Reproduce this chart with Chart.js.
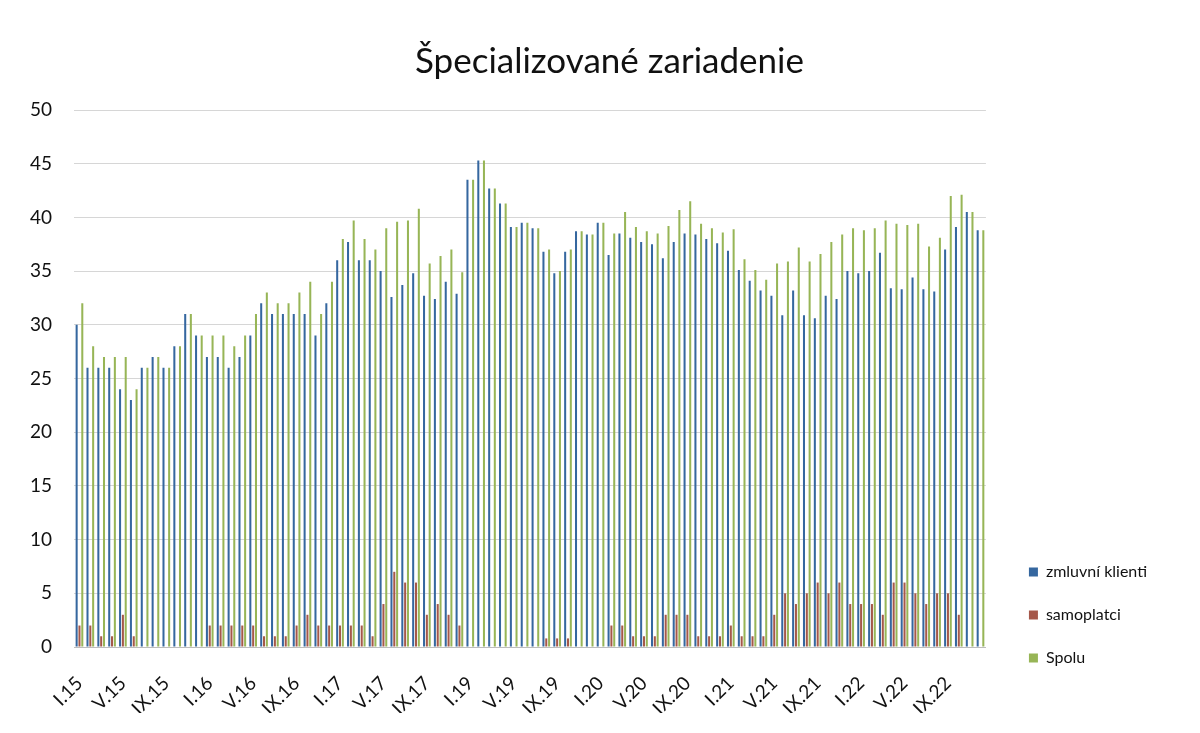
<!DOCTYPE html>
<html>
<head>
<meta charset="utf-8">
<script src="https://cdn.jsdelivr.net/npm/chart.js@4/dist/chart.umd.min.js"></script>
<style>
  html, body { margin: 0; padding: 0; background: #fff; }
  #wrap { width: 1200px; height: 733px; position: relative; }
</style>
</head>
<body>
<div id="wrap"><canvas id="chart"></canvas></div>
<script>
// mesiace a roky (rok 2018 v grafe chyba)
const years = ['15', '16', '17', '19', '20', '21', '22'];
const months = ['I', 'II', 'III', 'IV', 'V', 'VI', 'VII', 'VIII', 'IX', 'X', 'XI', 'XII'];
const categories = years.flatMap(y => months.map(m => m + '.' + y));

const zmluvni = [
    30, 26, 26, 26, 24, 23, 26, 27, 26, 28, 31, 29,
    27, 27, 26, 27, 29, 32, 31, 31, 31, 31, 29, 32,
    36, 37.7, 36, 36, 35, 32.6, 33.7, 34.8, 32.7, 32.4, 34, 32.9,
    43.5, 45.3, 42.7, 41.3, 39.1, 39.5, 39, 36.8, 34.8, 36.8, 38.7, 38.4,
    39.5, 36.5, 38.5, 38.1, 37.7, 37.5, 36.2, 37.7, 38.5, 38.4, 38, 37.6,
    36.9, 35.1, 34.1, 33.2, 32.7, 30.9, 33.2, 30.9, 30.6, 32.7, 32.4, 35,
    34.8, 35, 36.7, 33.4, 33.3, 34.4, 33.3, 33.1, 37, 39.1, 40.5, 38.8
];
const samoplatci = [
    2, 2, 1, 1, 3, 1, 0, 0, 0, 0, 0, 0,
    2, 2, 2, 2, 2, 1, 1, 1, 2, 3, 2, 2,
    2, 2, 2, 1, 4, 7, 6, 6, 3, 4, 3, 2,
    0, 0, 0, 0, 0, 0, 0, 0.8, 0.8, 0.8, 0, 0,
    0, 2, 2, 1, 1, 1, 3, 3, 3, 1, 1, 1,
    2, 1, 1, 1, 3, 5, 4, 5, 6, 5, 6, 4,
    4, 4, 3, 6, 6, 5, 4, 5, 5, 3, 0, 0
];
const spolu = [
    32, 28, 27, 27, 27, 24, 26, 27, 26, 28, 31, 29,
    29, 29, 28, 29, 31, 33, 32, 32, 33, 34, 31, 34,
    38, 39.7, 38, 37, 39, 39.6, 39.7, 40.8, 35.7, 36.4, 37, 34.9,
    43.5, 45.3, 42.7, 41.3, 39.1, 39.5, 39, 37, 35, 37, 38.7, 38.4,
    39.5, 38.5, 40.5, 39.1, 38.7, 38.5, 39.2, 40.7, 41.5, 39.4, 39, 38.6,
    38.9, 36.1, 35.1, 34.2, 35.7, 35.9, 37.2, 35.9, 36.6, 37.7, 38.4, 39,
    38.8, 39, 39.7, 39.4, 39.3, 39.4, 37.3, 38.1, 42, 42.1, 40.5, 38.8
];

const FONT = 'Lato, "Open Sans", sans-serif';

// nadpis a legenda su v originali posunute voci rozlozeniu Chart.js
const nudge = {
    id: 'nudge',
    afterLayout(chart) {
        const t = chart.titleBlock;
        if (t) { t.left += 27; t.right += 27; }
        const lg = chart.legend;
        if (lg) {
            const dy = (chart.chartArea.bottom + 46) - lg.bottom;
            lg.top += dy;
            lg.bottom += dy;
        }
    }
};

new Chart(document.getElementById('chart'), {
    type: 'bar',
    data: {
        labels: categories,
        datasets: [
            { label: 'zmluvní klienti', data: zmluvni, backgroundColor: '#35679f' },
            { label: 'samoplatci', data: samoplatci, backgroundColor: '#a5584a' },
            { label: 'Spolu', data: spolu, backgroundColor: '#97b556' }
        ]
    },
    options: {
        responsive: true,
        maintainAspectRatio: false,
        animation: false,
        datasets: {
            bar: { categoryPercentage: 0.78, barPercentage: 0.72 }
        },
        layout: { padding: { top: 41, left: 8, right: 43, bottom: 20 } },
        scales: {
            x: {
                grid: { display: false },
                border: { display: true, color: '#bdbdbd' },
                ticks: {
                    autoSkip: false,
                    maxRotation: 45,
                    minRotation: 45,
                    padding: 17,
                    color: '#111',
                    font: { family: FONT, size: 19 },
                    callback: (val, i) => (i % 4 === 0 ? categories[i] : '')
                },
                afterFit(scale) { scale.height = 66; }
            },
            y: {
                min: 0,
                max: 50,
                border: { display: false },
                grid: { color: '#d6d6d6', drawTicks: false },
                ticks: {
                    stepSize: 5,
                    padding: 22,
                    color: '#111',
                    font: { family: FONT, size: 19 }
                }
            },
            gap: {
                type: 'linear',
                position: 'right',
                display: true,
                grid: { display: false },
                border: { display: false },
                ticks: { display: false },
                afterFit(scale) { scale.width = 16; }
            }
        },
        plugins: {
            title: {
                display: true,
                text: 'Špecializované zariadenie',
                color: '#111',
                font: { family: FONT, size: 35, weight: 'normal' },
                padding: { top: 0, bottom: 27 }
            },
            legend: {
                position: 'right',
                align: 'end',
                labels: {
                    boxWidth: 9,
                    boxHeight: 9,
                    padding: 27,
                    color: '#111',
                    font: { family: FONT, size: 16 }
                }
            },
            tooltip: { enabled: false }
        }
    },
    plugins: [nudge]
});
</script>
</body>
</html>
